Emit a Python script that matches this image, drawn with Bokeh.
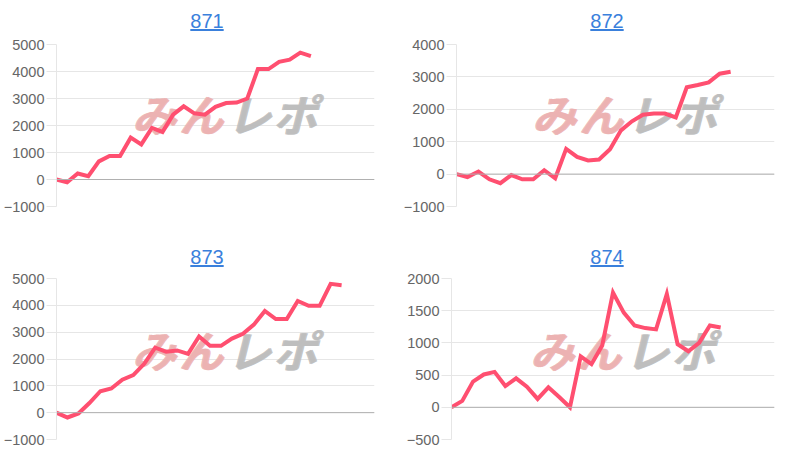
from bokeh.plotting import figure
from bokeh.models import Range1d, FixedTicker, Span, Label, Div
from bokeh.layouts import row, column
from bokeh.embed import file_html
from bokeh.resources import INLINE

# ---- data ----
titles = ["871", "872", "873", "874"]
values_871 = [0, -100, 220, 120, 670, 870, 870, 1550, 1300, 1910, 1760, 2400, 2710,
              2450, 2400, 2690, 2830, 2850, 3000, 4090, 4090, 4360, 4440, 4700, 4570]
values_872 = [0, -90, 80, -160, -280, -30, -160, -160, 120, -130, 780, 530, 420, 450,
              770, 1350, 1630, 1830, 1870, 1870, 1750, 2680, 2750, 2830, 3100, 3160]
values_873 = [0, -180, -30, 360, 800, 900, 1230, 1400, 1820, 2420, 2270, 2320, 2190,
              2840, 2490, 2490, 2760, 2940, 3280, 3790, 3490, 3490, 4160, 3980, 3980,
              4800, 4750]
values_874 = [0, 100, 400, 510, 550, 330, 450, 320, 130, 310, 160, 0, 790, 670, 960,
              1780, 1470, 1270, 1230, 1210, 1760, 980, 870, 1000, 1270, 1240]
days_871 = [str(d) for d in range(1, 32)]
days_872 = [str(d) for d in range(1, 31)]
days_873 = [str(d) for d in range(1, 31)]
days_874 = [str(d) for d in range(1, 32)]
y_ticks_871 = [-1000, 0, 1000, 2000, 3000, 4000, 5000]
y_ticks_872 = [-1000, 0, 1000, 2000, 3000, 4000]
y_ticks_873 = [-1000, 0, 1000, 2000, 3000, 4000, 5000]
y_ticks_874 = [-500, 0, 500, 1000, 1500, 2000]
watermark_chars = ["み", "ん", "レ", "ポ"]

LINE = "#ff4f70"
GRID = "#e6e6e6"
TICK_TXT = "#666666"
TITLE_BLUE = "#3a80dc"


def make_title(text, width, shift):
    html = ('<div style="box-sizing:border-box;width:%dpx;text-align:center;padding-left:%dpx;'
            'font-family:\'Liberation Sans\',Arial,sans-serif;font-size:20px;line-height:26px;">'
            '<a href="#" style="color:%s;text-decoration:underline;">%s</a></div>'
            % (width, shift, TITLE_BLUE, text))
    return Div(text=html, width=width, height=26, margin=(0, 0, 0, 0))


def make_plot(values, days, yticks, width, height, bl, br, bt, bb, wm_dx, wm_y):
    p = figure(width=width, height=height, output_backend="svg", toolbar_location=None,
               x_range=Range1d(0, len(days) - 1),
               y_range=Range1d(yticks[0], yticks[-1]),
               x_axis_location=None, y_axis_location="left",
               min_border_left=bl, min_border_right=br,
               min_border_top=bt, min_border_bottom=bb, margin=(0, 0, 0, 0))
    p.outline_line_color = None
    p.background_fill_color = "white"
    p.border_fill_color = "white"
    ax = p.yaxis[0]
    ax.ticker = FixedTicker(ticks=yticks)
    ax.axis_line_color = GRID
    ax.major_tick_line_color = GRID
    ax.major_tick_out = 10
    ax.major_tick_in = 0
    ax.minor_tick_line_color = None
    ax.major_label_standoff = 2
    ax.major_label_text_color = TICK_TXT
    ax.major_label_text_font = "Liberation Sans"
    ax.major_label_text_font_size = "14.5px"
    p.xgrid.visible = False
    p.ygrid.grid_line_color = GRID
    p.ygrid.ticker = FixedTicker(ticks=yticks)
    p.add_layout(Span(location=0, dimension="width", line_color="#b0b0b0", line_width=1))

    # watermark (screen units, relative to frame bottom-left)
    xs = [97, 144, 192, 238]
    cols = ["#ecb1b1", "#ecb1b1", "#bdbdbd", "#bdbdbd"]
    for cx, ch, col in zip(xs, watermark_chars, cols):
        for dx in (0, 1.5):
            lab = Label(x=cx + wm_dx + dx, y=wm_y, x_units="screen", y_units="screen", text=ch,
                        text_font="Noto Sans CJK JP", text_font_style="bold italic",
                        text_font_size="44px", text_color=col, text_alpha=0.9,
                        text_align="center", text_baseline="middle", level="underlay")
            p.add_layout(lab)
    p.line(list(range(len(values))), values, line_color=LINE, line_width=4,
           line_join="miter")
    return p


# frame heights: top row 162, bottom row 161
p1 = make_plot(values_871, days_871, y_ticks_871, 400, 210, 56, 26, 10, 38, 0, 94)
p2 = make_plot(values_872, days_872, y_ticks_872, 380, 210, 56, 6, 10, 38, 0, 94)
p3 = make_plot(values_873, days_873, y_ticks_873, 400, 179, 56, 26, 8, 10, 0, 91)
p4 = make_plot(values_874, days_874, y_ticks_874, 380, 179, 51, 6, 8, 10, 3, 91)

t1 = make_title(titles[0], 400, 14)
t2 = make_title(titles[1], 380, 34)
t3 = make_title(titles[2], 400, 14)
t4 = make_title(titles[3], 380, 34)

layout = column(row(column(t1, p1, spacing=0), column(t2, p2, spacing=0), spacing=0),
                row(column(t3, p3, spacing=0), column(t4, p4, spacing=0), spacing=0),
                spacing=0, margin=(8, 0, 0, 0))

open("out.html", "w").write(file_html(layout, INLINE))
